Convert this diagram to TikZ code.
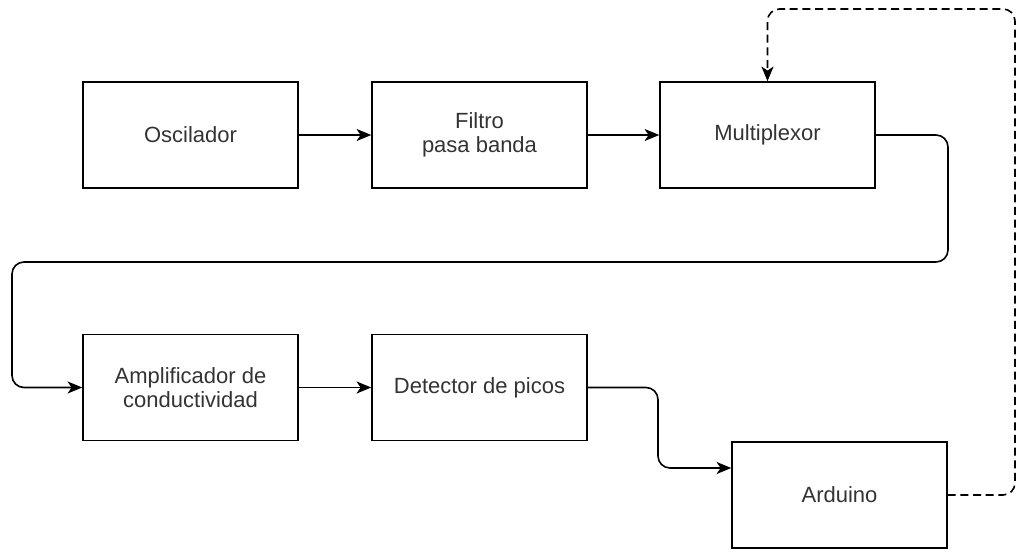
\documentclass[tikz,border=0pt]{standalone}
\usepackage{fontspec}
\setmainfont{Liberation Sans}
\usetikzlibrary{arrows.meta}
\tikzset{
    block/.style={rectangle,draw,line width=1.1pt,minimum width=161.25pt,minimum height=79.5pt,
        align=center,text=black!80,font=\fontsize{16.5}{18}\selectfont},
    flow/.style={->,> = {Stealth[length=11pt,width=9pt,inset=3pt]},line width=1.2pt,rounded corners=9pt},
    ctrl/.style={flow,dash pattern=on 6pt off 3.5pt},
}

\begin{document}
\begin{tikzpicture}[x=0.75pt,y=-0.75pt]
    \useasboundingbox (0,0) rectangle (1018,552);
    \node[block] (osc) at (190.5,135) {Oscilador};
    \node[block] (filtro) at (479.5,135) {Filtro\\pasa banda};
    \node[block] (mux) at (767.5,135) {Multiplexor};
    \node[block] (amp) at (190.5,387.5) {Amplificador de\\conductividad};
    \node[block] (det) at (479.5,387.5) {Detector de picos};
    \node[block] (ard) at (839.5,495) {Arduino};
    \draw[flow] (osc) -- (filtro);
    \draw[flow] (filtro) -- (mux);
    \draw[flow] (mux.east) -- (948,135) -- (948,262) -- (12,262) |- (amp.west);
    \draw[flow] (amp) -- (det);
    \draw[flow] (det.east) -- (658,387.5) |- ([yshift=20.25pt]ard.west);
    % feedback from the arduino to the multiplexor
    \draw[ctrl] (ard.east) -- (1015,495) -- (1015,9) -| (mux.north);
\end{tikzpicture}
\end{document}
